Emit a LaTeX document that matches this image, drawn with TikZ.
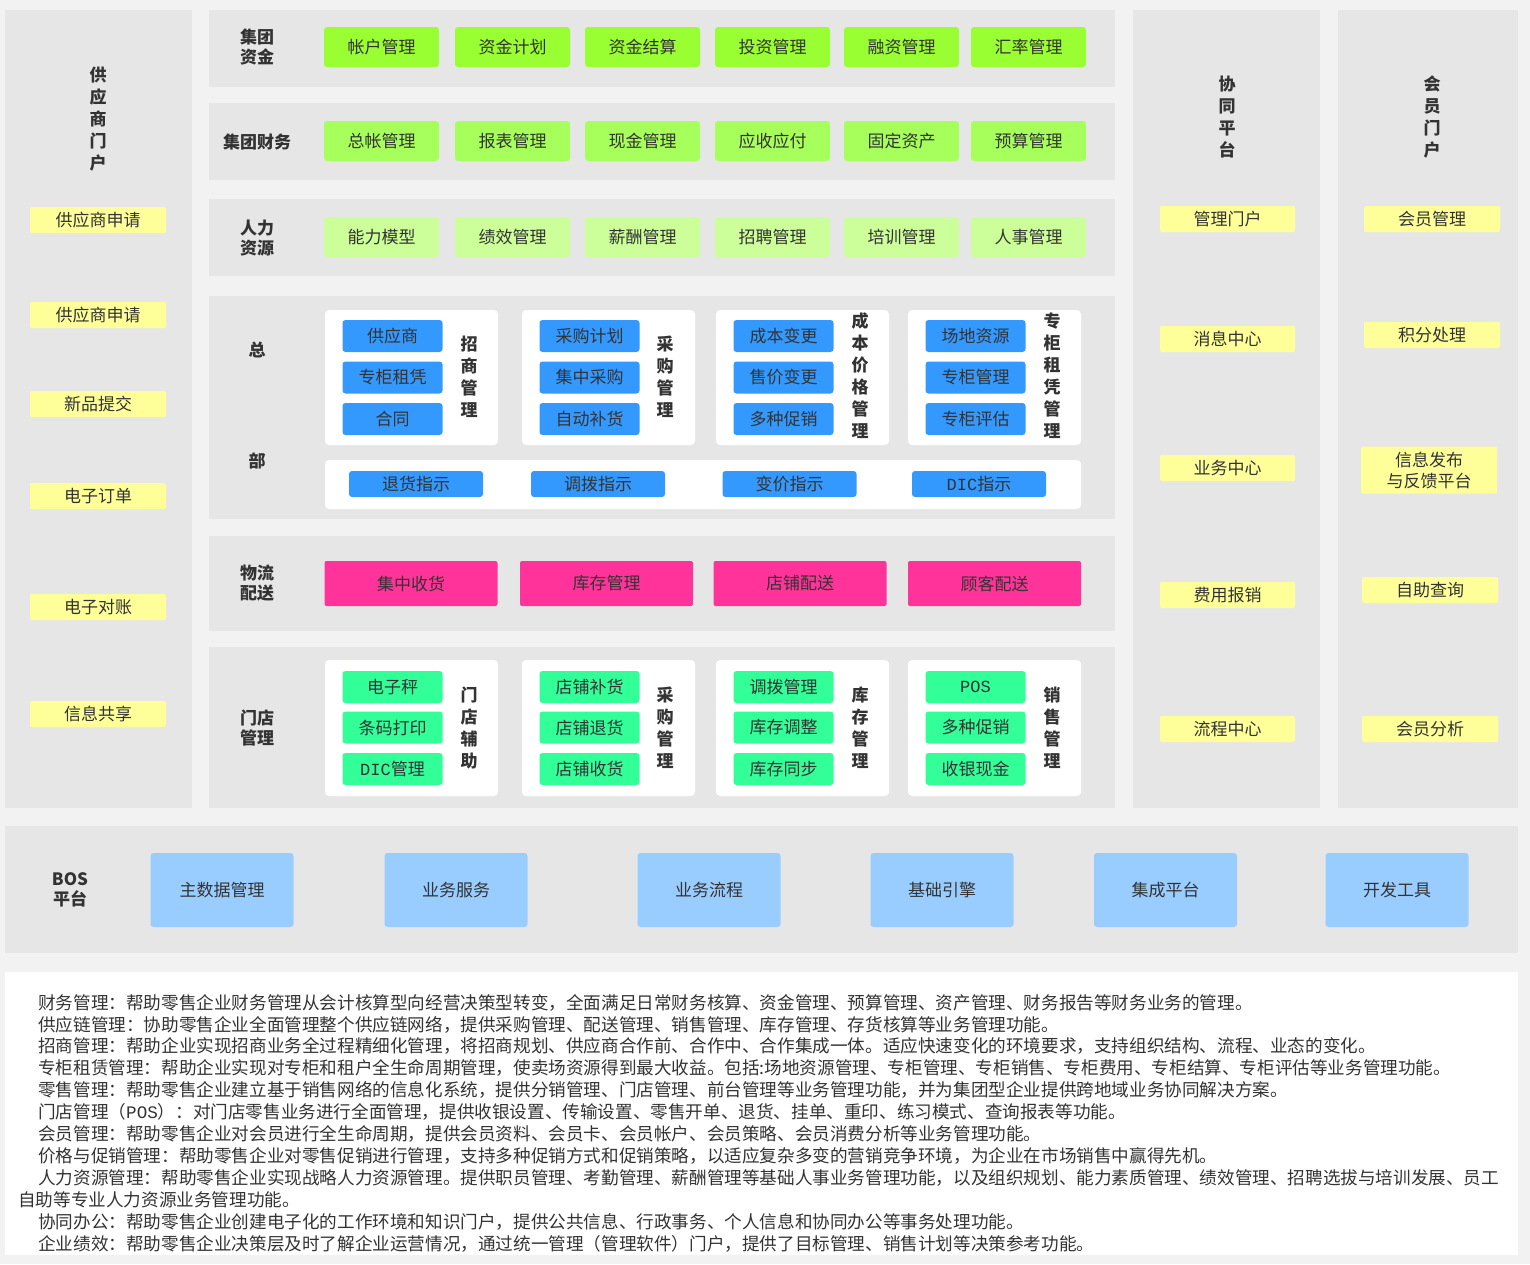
\documentclass[tikz,border=0pt]{standalone}
\usepackage{fontspec}
\setmainfont{Noto Sans CJK SC}
\newfontfamily\dicfont{Liberation Mono}

\definecolor{pagegray}{HTML}{F2F2F2}
\definecolor{panelgray}{HTML}{E6E6E6}
\definecolor{textgray}{HTML}{333333}
\definecolor{portalyellow}{HTML}{FFFF99}
\definecolor{fundgreen}{HTML}{99FF33}
\definecolor{financegreen}{HTML}{A6FF5A}
\definecolor{hrgreen}{HTML}{CCFF99}
\definecolor{hqblue}{HTML}{3399FF}
\definecolor{logipink}{HTML}{FF3399}
\definecolor{storegreen}{HTML}{33FF99}
\definecolor{bosblue}{HTML}{99CCFF}

\tikzset{
  panel/.style={fill=panelgray},
  rowlabel/.style={align=center, inner sep=0pt, text=textgray, font=\fontsize{17}{20}\selectfont\bfseries},
  vlabel/.style={align=center, inner sep=0pt, text=textgray, font=\fontsize{17}{22}\selectfont\bfseries},
  box/.style={rounded corners=3pt, inner sep=0pt, align=center, text=textgray, font=\fontsize{17}{22}\selectfont},
  portalbox/.style={box, fill=portalyellow, minimum width=136, minimum height=26, rounded corners=2pt},
  fundbox/.style={box, fill=fundgreen, minimum width=115, minimum height=40},
  financebox/.style={box, fill=financegreen, minimum width=115, minimum height=40},
  hrbox/.style={box, fill=hrgreen, minimum width=115, minimum height=40},
  groupbox/.style={fill=white, rounded corners=4pt, inner sep=0pt, minimum width=173, minimum height=135},
  hqbox/.style={box, fill=hqblue, minimum width=100, minimum height=32},
  orderbox/.style={box, fill=hqblue, minimum width=134, minimum height=26},
  logibox/.style={box, fill=logipink, minimum width=173, minimum height=45, rounded corners=2pt},
  storebox/.style={box, fill=storegreen, minimum width=100, minimum height=32},
  bosbox/.style={box, fill=bosblue, minimum width=143, minimum height=74},
  desc/.style={align=left, inner sep=0pt, text=textgray, font=\fontsize{17.6}{21.9}\selectfont},
}
\newcommand{\ind}{\hspace*{20pt}}

\begin{document}
\begin{tikzpicture}[x=1pt, y=-1pt]
  \useasboundingbox (0,0) rectangle (1530,1264);
  \fill[pagegray] (0,0) rectangle (1530,1264);

  % panels
  \fill[panel] (5,10) rectangle (192,808);
  \fill[panel] (209,10) rectangle (1115,87);
  \fill[panel] (209,103) rectangle (1115,180);
  \fill[panel] (209,199) rectangle (1115,276);
  \fill[panel] (209,296) rectangle (1115,519);
  \fill[panel] (209,536) rectangle (1115,631);
  \fill[panel] (209,647) rectangle (1115,808);
  \fill[panel] (1133,10) rectangle (1320,808);
  \fill[panel] (1338,10) rectangle (1518,808);
  \fill[panel] (5,826) rectangle (1518,953);
  \fill[white] (5,972) rectangle (1518,1255);

  % supplier portal
  \node[vlabel] (supplier) at (98,119) {供\\应\\商\\门\\户};
  \node[portalbox] (sup1) at (98,220) {供应商申请};
  \node[portalbox] (sup2) at (98,315) {供应商申请};
  \node[portalbox] (sup3) at (98,404) {新品提交};
  \node[portalbox] (sup4) at (98,496) {电子订单};
  \node[portalbox] (sup5) at (98,607) {电子对账};
  \node[portalbox] (sup6) at (98,714) {信息共享};

  % group funds
  \node[rowlabel] (fund) at (257,47) {集团\\资金};
  \node[fundbox] (fund1) at (381.5,47) {帐户管理};
  \node[fundbox] (fund2) at (512.5,47) {资金计划};
  \node[fundbox] (fund3) at (642.5,47) {资金结算};
  \node[fundbox] (fund4) at (772.5,47) {投资管理};
  \node[fundbox] (fund5) at (901.5,47) {融资管理};
  \node[fundbox] (fund6) at (1028.5,47) {汇率管理};

  % group finance
  \node[rowlabel] (finance) at (257,142) {集团财务};
  \node[financebox] (fin1) at (381.5,141) {总帐管理};
  \node[financebox] (fin2) at (512.5,141) {报表管理};
  \node[financebox] (fin3) at (642.5,141) {现金管理};
  \node[financebox] (fin4) at (772.5,141) {应收应付};
  \node[financebox] (fin5) at (901.5,141) {固定资产};
  \node[financebox] (fin6) at (1028.5,141) {预算管理};

  % human resources
  \node[rowlabel] (hr) at (257,238) {人力\\资源};
  \node[hrbox] (hr1) at (381.5,237) {能力模型};
  \node[hrbox] (hr2) at (512.5,237) {绩效管理};
  \node[hrbox] (hr3) at (642.5,237) {薪酬管理};
  \node[hrbox] (hr4) at (772.5,237) {招聘管理};
  \node[hrbox] (hr5) at (901.5,237) {培训管理};
  \node[hrbox] (hr6) at (1028.5,237) {人事管理};

  % headquarters
  \node[rowlabel] (hqtop) at (257,350) {总};
  \node[rowlabel] (hqbottom) at (257,461) {部};
  \node[groupbox] (hqgrp1) at (411.5,377.5) {};
  \node[groupbox] (hqgrp2) at (608.5,377.5) {};
  \node[groupbox] (hqgrp3) at (802.5,377.5) {};
  \node[groupbox] (hqgrp4) at (994.5,377.5) {};
  \node[groupbox, minimum width=756, minimum height=49] (hqorders) at (703,484.5) {};

  \node[hqbox] (invest1) at (392.5,336) {供应商};
  \node[hqbox] (invest2) at (392.5,377.5) {专柜租凭};
  \node[hqbox] (invest3) at (392.5,419) {合同};
  \node[vlabel] (invest) at (469,377) {招\\商\\管\\理};

  \node[hqbox] (purch1) at (589.5,336) {采购计划};
  \node[hqbox] (purch2) at (589.5,377.5) {集中采购};
  \node[hqbox] (purch3) at (589.5,419) {自动补货};
  \node[vlabel] (purch) at (665,377) {采\\购\\管\\理};

  \node[hqbox] (price1) at (783.5,336) {成本变更};
  \node[hqbox] (price2) at (783.5,377.5) {售价变更};
  \node[hqbox] (price3) at (783.5,419) {多种促销};
  \node[vlabel] (price) at (860,376) {成\\本\\价\\格\\管\\理};

  \node[hqbox] (lease1) at (975.5,336) {场地资源};
  \node[hqbox] (lease2) at (975.5,377.5) {专柜管理};
  \node[hqbox] (lease3) at (975.5,419) {专柜评估};
  \node[vlabel] (lease) at (1052,376) {专\\柜\\租\\凭\\管\\理};

  \node[orderbox] (order1) at (416,484) {退货指示};
  \node[orderbox] (order2) at (598,484) {调拨指示};
  \node[orderbox] (order3) at (789.5,484) {变价指示};
  \node[orderbox] (order4) at (979,484) {{\dicfont DIC}指示};

  % logistics
  \node[rowlabel] (logi) at (257,583) {物流\\配送};
  \node[logibox] (logi1) at (411,583.5) {集中收货};
  \node[logibox] (logi2) at (606.5,583.5) {库存管理};
  \node[logibox] (logi3) at (800,583.5) {店铺配送};
  \node[logibox] (logi4) at (994.5,583.5) {顾客配送};

  % store management
  \node[rowlabel] (store) at (257,728) {门店\\管理};
  \node[groupbox, minimum height=136] (stgrp1) at (411.5,728) {};
  \node[groupbox, minimum height=136] (stgrp2) at (608.5,728) {};
  \node[groupbox, minimum height=136] (stgrp3) at (802.5,728) {};
  \node[groupbox, minimum height=136] (stgrp4) at (994.5,728) {};

  \node[storebox] (aux1) at (392.5,687) {电子秤};
  \node[storebox] (aux2) at (392.5,727.5) {条码打印};
  \node[storebox] (aux3) at (392.5,769) {{\dicfont DIC}管理};
  \node[vlabel] (aux) at (469,728) {门\\店\\辅\\助};

  \node[storebox] (stpurch1) at (589.5,687) {店铺补货};
  \node[storebox] (stpurch2) at (589.5,727.5) {店铺退货};
  \node[storebox] (stpurch3) at (589.5,769) {店铺收货};
  \node[vlabel] (stpurch) at (665,728) {采\\购\\管\\理};

  \node[storebox] (stock1) at (783.5,687) {调拨管理};
  \node[storebox] (stock2) at (783.5,727.5) {库存调整};
  \node[storebox] (stock3) at (783.5,769) {库存同步};
  \node[vlabel] (stock) at (860,728) {库\\存\\管\\理};

  \node[storebox] (sales1) at (975.5,687) {\dicfont POS};
  \node[storebox] (sales2) at (975.5,727.5) {多种促销};
  \node[storebox] (sales3) at (975.5,769) {收银现金};
  \node[vlabel] (sales) at (1052,728) {销\\售\\管\\理};

  % collaboration platform
  \node[vlabel] (collab) at (1227,117) {协\\同\\平\\台};
  \node[portalbox, minimum width=135] (col1) at (1227.5,219) {管理门户};
  \node[portalbox, minimum width=135] (col2) at (1227.5,339) {消息中心};
  \node[portalbox, minimum width=135] (col3) at (1227.5,468) {业务中心};
  \node[portalbox, minimum width=135] (col4) at (1227.5,595) {费用报销};
  \node[portalbox, minimum width=135] (col5) at (1227.5,729) {流程中心};

  % member portal
  \node[vlabel] (member) at (1432,117) {会\\员\\门\\户};
  \node[portalbox] (mem1) at (1432,219) {会员管理};
  \node[portalbox] (mem2) at (1432,335) {积分处理};
  \node[portalbox, minimum height=47, font=\fontsize{17}{21}\selectfont] (mem3) at (1429,470) {信息发布\\与反馈平台};
  \node[portalbox] (mem4) at (1430,590) {自助查询};
  \node[portalbox] (mem5) at (1430,729) {会员分析};

  % BOS platform
  \node[rowlabel] (bos) at (70,890) {BOS\\平台};
  \node[bosbox] (bos1) at (222,890) {主数据管理};
  \node[bosbox] (bos2) at (456,890) {业务服务};
  \node[bosbox] (bos3) at (709,890) {业务流程};
  \node[bosbox] (bos4) at (942,890) {基础引擎};
  \node[bosbox] (bos5) at (1165.5,890) {集成平台};
  \node[bosbox] (bos6) at (1397,890) {开发工具};

  % descriptions
  \node[desc, anchor=north west] (notes) at (18,994) {%
    \ind 财务管理：帮助零售企业财务管理从会计核算型向经营决策型转变，全面满足日常财务核算、资金管理、预算管理、资产管理、财务报告等财务业务的管理。\\
    \ind 供应链管理：协助零售企业全面管理整个供应链网络，提供采购管理、配送管理、销售管理、库存管理、存货核算等业务管理功能。\\
    \ind 招商管理：帮助企业实现招商业务全过程精细化管理，将招商规划、供应商合作前、合作中、合作集成一体。适应快速变化的环境要求，支持组织结构、流程、业态的变化。\\
    \ind 专柜租赁管理：帮助企业实现对专柜和租户全生命周期管理，使卖场资源得到最大收益。包括:场地资源管理、专柜管理、专柜销售、专柜费用、专柜结算、专柜评估等业务管理功能。\\
    \ind 零售管理：帮助零售企业建立基于销售网络的信息化系统，提供分销管理、门店管理、前台管理等业务管理功能，并为集团型企业提供跨地域业务协同解决方案。\\
    \ind 门店管理（{\dicfont POS}）：对门店零售业务进行全面管理，提供收银设置、传输设置、零售开单、退货、挂单、重印、练习模式、查询报表等功能。\\
    \ind 会员管理：帮助零售企业对会员进行全生命周期，提供会员资料、会员卡、会员帐户、会员策略、会员消费分析等业务管理功能。\\
    \ind 价格与促销管理：帮助零售企业对零售促销进行管理，支持多种促销方式和促销策略，以适应复杂多变的营销竞争环境，为企业在市场销售中赢得先机。\\
    \ind 人力资源管理：帮助零售企业实现战略人力资源管理。提供职员管理、考勤管理、薪酬管理等基础人事业务管理功能，以及组织规划、能力素质管理、绩效管理、招聘选拔与培训发展、员工\\
    自助等专业人力资源业务管理功能。\\
    \ind 协同办公：帮助零售企业创建电子化的工作环境和知识门户，提供公共信息、行政事务、个人信息和协同办公等事务处理功能。\\
    \ind 企业绩效：帮助零售企业决策层及时了解企业运营情况，通过统一管理（管理软件）门户，提供了目标管理、销售计划等决策参考功能。};
\end{tikzpicture}
\end{document}
